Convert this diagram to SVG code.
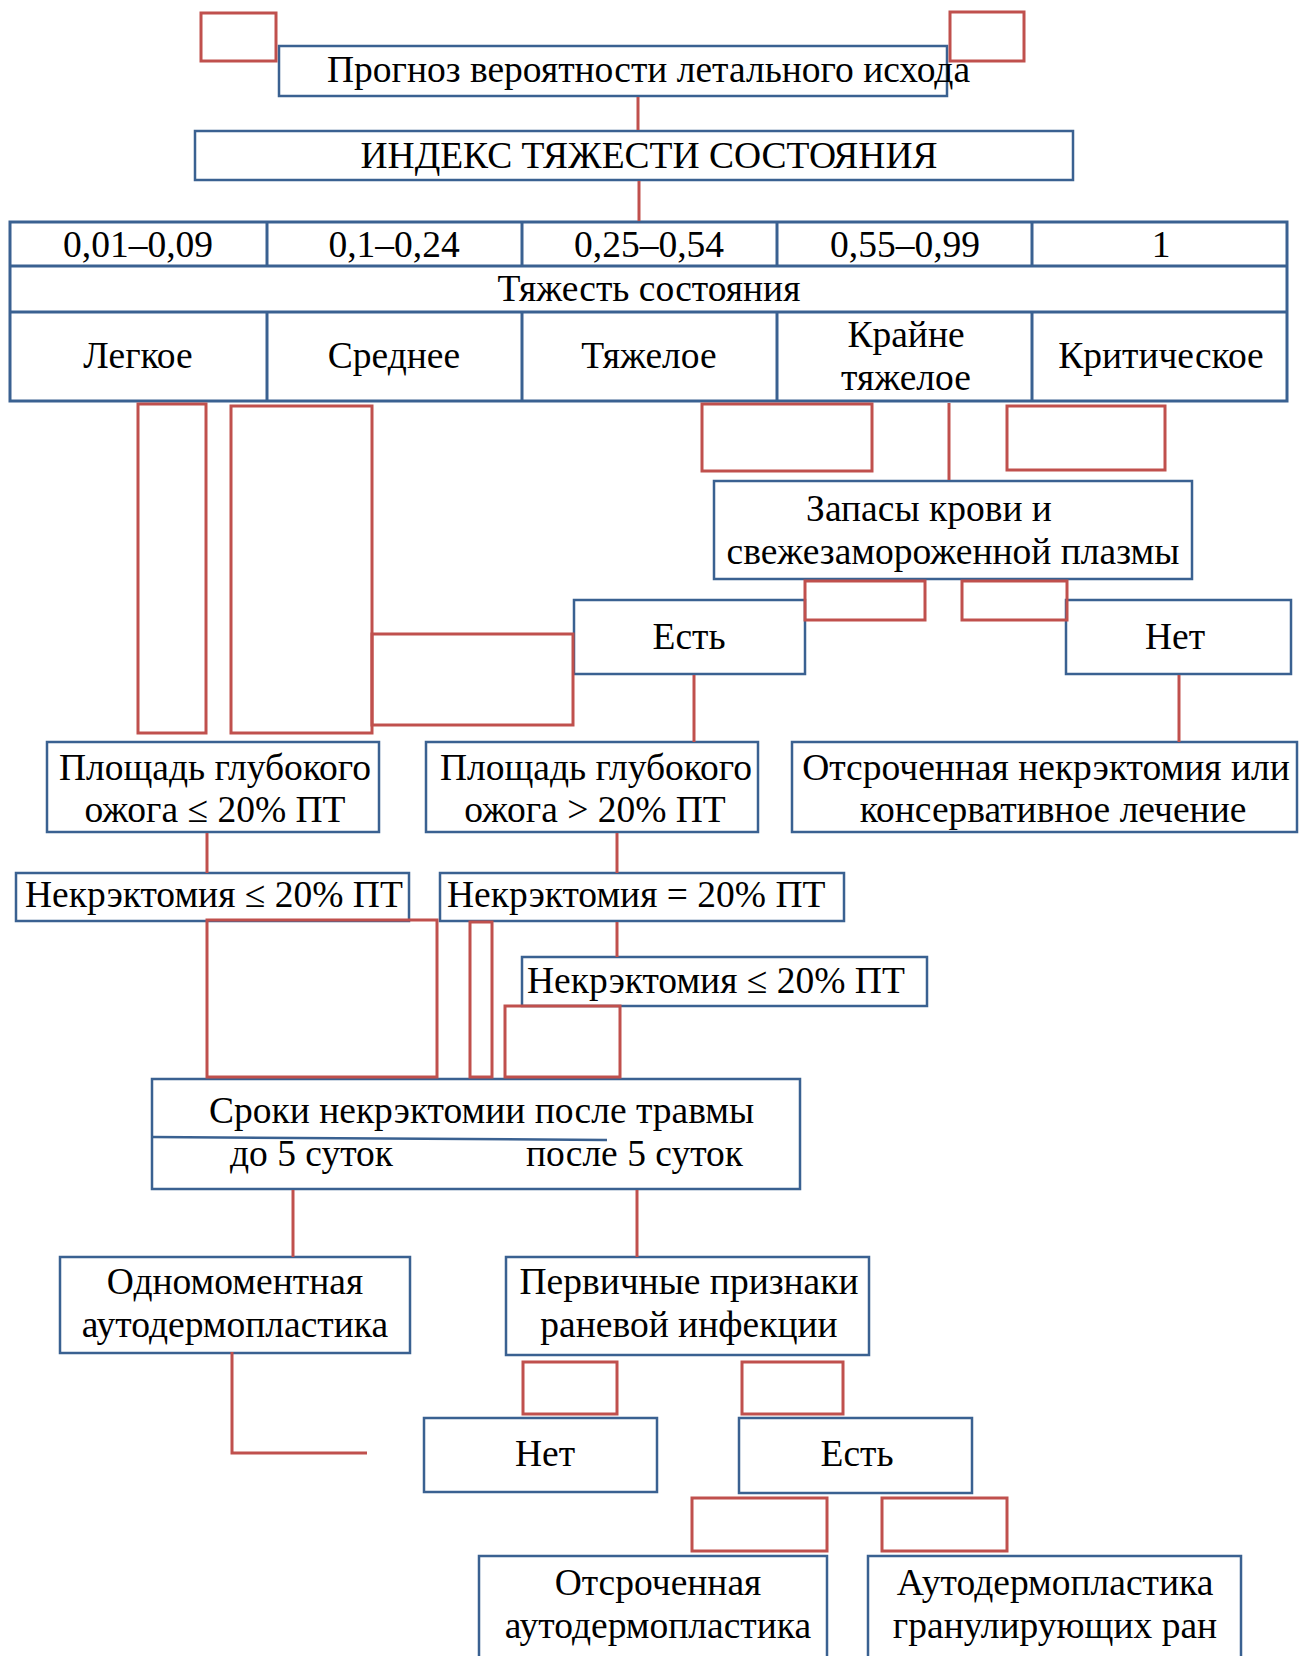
<svg xmlns="http://www.w3.org/2000/svg" width="1302" height="1656" viewBox="0 0 1302 1656">
<style>
.box{fill:#ffffff;stroke:#3A6191;stroke-width:2.5}
.cell{fill:none;stroke:#3A6191;stroke-width:3}
.t{font-family:"Liberation Serif","Times New Roman",serif;font-size:37.5px;fill:#000}
.m{text-anchor:middle}
.c{fill:none;stroke:#C0504D;stroke-width:3}
</style>
<rect width="1302" height="1656" fill="#ffffff"/>

<g id="node-prognoz">
<rect class="box" x="279" y="46" width="668" height="50"/>
<text class="t" x="327" y="82">Прогноз вероятности летального исхода</text>
</g>

<g id="node-index">
<rect class="box" x="195" y="131" width="878" height="49"/>
<text class="t m" x="649" y="168">ИНДЕКС ТЯЖЕСТИ СОСТОЯНИЯ</text>
</g>

<g id="node-table">
<rect class="cell" x="10" y="222" width="1277" height="179" fill="#fff"/>
<line class="cell" x1="10" y1="266" x2="1287" y2="266"/>
<line class="cell" x1="10" y1="312" x2="1287" y2="312"/>
<line class="cell" x1="267" y1="222" x2="267" y2="266"/>
<line class="cell" x1="522" y1="222" x2="522" y2="266"/>
<line class="cell" x1="777" y1="222" x2="777" y2="266"/>
<line class="cell" x1="1032" y1="222" x2="1032" y2="266"/>
<line class="cell" x1="267" y1="312" x2="267" y2="401"/>
<line class="cell" x1="522" y1="312" x2="522" y2="401"/>
<line class="cell" x1="777" y1="312" x2="777" y2="401"/>
<line class="cell" x1="1032" y1="312" x2="1032" y2="401"/>
<text class="t m" x="138" y="257">0,01–0,09</text>
<text class="t m" x="394" y="257">0,1–0,24</text>
<text class="t m" x="649" y="257">0,25–0,54</text>
<text class="t m" x="905" y="257">0,55–0,99</text>
<text class="t m" x="1161" y="257">1</text>
<text class="t m" x="649" y="301">Тяжесть состояния</text>
<text class="t m" x="138" y="368">Легкое</text>
<text class="t m" x="394" y="368">Среднее</text>
<text class="t m" x="649" y="368">Тяжелое</text>
<text class="t m" x="906" y="347">Крайне</text>
<text class="t m" x="906" y="390">тяжелое</text>
<text class="t m" x="1161" y="368">Критическое</text>
</g>

<g id="node-zapasy">
<rect class="box" x="714" y="481" width="478" height="98"/>
<text class="t m" x="929" y="521">Запасы крови и</text>
<text class="t m" x="953" y="564">свежезамороженной плазмы</text>
</g>

<g id="node-est1">
<rect class="box" x="574" y="600" width="231" height="74"/>
<text class="t m" x="689" y="649">Есть</text>
</g>

<g id="node-net1">
<rect class="box" x="1066" y="600" width="225" height="74"/>
<text class="t m" x="1175" y="649">Нет</text>
</g>

<g id="node-area-le">
<rect class="box" x="47" y="742" width="332" height="90"/>
<text class="t m" x="215" y="780">Площадь глубокого</text>
<text class="t m" x="215" y="822">ожога ≤ 20% ПТ</text>
</g>

<g id="node-area-gt">
<rect class="box" x="426" y="742" width="332" height="90"/>
<text class="t m" x="596" y="780">Площадь глубокого</text>
<text class="t m" x="595" y="822">ожога &gt; 20% ПТ</text>
</g>

<g id="node-delayed">
<rect class="box" x="792" y="742" width="505" height="90"/>
<text class="t m" x="1046" y="780">Отсроченная некрэктомия или</text>
<text class="t m" x="1053" y="822">консервативное лечение</text>
</g>

<g id="node-necr1">
<rect class="box" x="16" y="873" width="393" height="48"/>
<text class="t" x="25" y="907">Некрэктомия ≤ 20% ПТ</text>
</g>

<g id="node-necr2">
<rect class="box" x="440" y="873" width="404" height="48"/>
<text class="t" x="447" y="907">Некрэктомия = 20% ПТ</text>
</g>

<g id="node-necr3">
<rect class="box" x="522" y="957" width="405" height="49"/>
<text class="t" x="527" y="993">Некрэктомия ≤ 20% ПТ</text>
</g>

<g id="node-sroki">
<rect class="box" x="152" y="1079" width="648" height="110"/>
<line x1="152" y1="1137" x2="607" y2="1140" stroke="#3A6191" stroke-width="2.5"/>
<text class="t" x="209" y="1123">Сроки некрэктомии после травмы</text>
<text class="t" x="230" y="1166">до 5 суток</text>
<text class="t" x="526" y="1166">после 5 суток</text>
</g>

<g id="node-odnomom">
<rect class="box" x="60" y="1257" width="350" height="96"/>
<text class="t m" x="235" y="1294">Одномоментная</text>
<text class="t m" x="235" y="1337">аутодермопластика</text>
</g>

<g id="node-priznaki">
<rect class="box" x="506" y="1257" width="363" height="98"/>
<text class="t m" x="689" y="1294">Первичные признаки</text>
<text class="t m" x="689" y="1337">раневой инфекции</text>
</g>

<g id="node-net2">
<rect class="box" x="424" y="1418" width="233" height="74"/>
<text class="t m" x="545" y="1466">Нет</text>
</g>

<g id="node-est2">
<rect class="box" x="739" y="1418" width="233" height="75"/>
<text class="t m" x="857" y="1466">Есть</text>
</g>

<g id="node-otsroch">
<rect class="box" x="479" y="1556" width="348" height="110"/>
<text class="t m" x="658" y="1595">Отсроченная</text>
<text class="t m" x="658" y="1638">аутодермопластика</text>
</g>

<g id="node-granul">
<rect class="box" x="868" y="1556" width="373" height="110"/>
<text class="t m" x="1055" y="1595">Аутодермопластика</text>
<text class="t m" x="1055" y="1638">гранулирующих ран</text>
</g>

<g id="connectors">
<rect class="c" x="201" y="13" width="75" height="48"/>
<rect class="c" x="950" y="12" width="74" height="49"/>
<line class="c" x1="638" y1="97" x2="638" y2="130"/>
<line class="c" x1="639" y1="181" x2="639" y2="221"/>
<rect class="c" x="138" y="404" width="68" height="329"/>
<rect class="c" x="231" y="406" width="141" height="327"/>
<rect class="c" x="372" y="634" width="201" height="91"/>
<rect class="c" x="702" y="404" width="170" height="67"/>
<line class="c" x1="949" y1="403" x2="949" y2="480"/>
<rect class="c" x="1007" y="406" width="158" height="64"/>
<rect class="c" x="805" y="581" width="120" height="39"/>
<rect class="c" x="962" y="581" width="105" height="39"/>
<line class="c" x1="694" y1="675" x2="694" y2="742"/>
<line class="c" x1="1179" y1="675" x2="1179" y2="742"/>
<line class="c" x1="207" y1="833" x2="207" y2="873"/>
<line class="c" x1="617" y1="833" x2="617" y2="873"/>
<line class="c" x1="617" y1="922" x2="617" y2="957"/>
<rect class="c" x="207" y="920" width="230" height="157"/>
<rect class="c" x="470" y="922" width="22" height="155"/>
<rect class="c" x="505" y="1006" width="115" height="71"/>
<line class="c" x1="293" y1="1190" x2="293" y2="1257"/>
<line class="c" x1="637" y1="1190" x2="637" y2="1257"/>
<polyline class="c" points="232,1352 232,1453 367,1453"/>
<rect class="c" x="523" y="1362" width="94" height="52"/>
<rect class="c" x="742" y="1362" width="101" height="52"/>
<rect class="c" x="692" y="1498" width="135" height="53"/>
<rect class="c" x="882" y="1498" width="125" height="53"/>
</g>
</svg>
